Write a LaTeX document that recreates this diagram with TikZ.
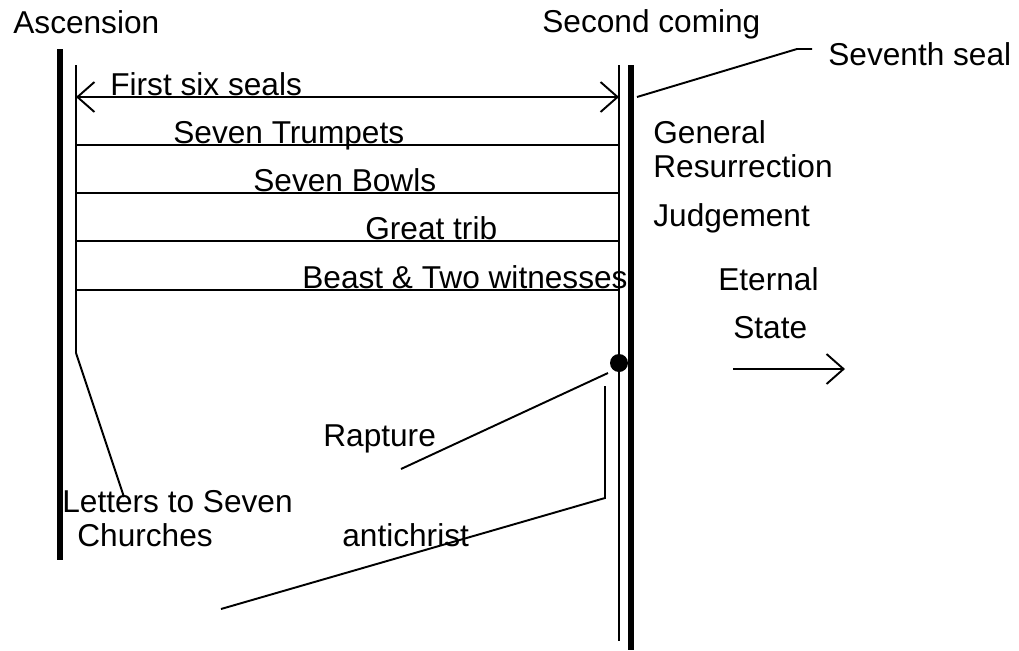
\documentclass[tikz,border=0pt]{standalone}
\usepackage{fontspec}
\setmainfont{Liberation Sans}
\usetikzlibrary{arrows.meta}

\begin{document}
\begin{tikzpicture}[x=0.02cm,y=-0.02cm,
    txt/.style={anchor=base west,inner sep=0pt,font=\fontsize{18}{22}\selectfont},
    thinline/.style={line width=1.1pt},
    thickline/.style={line width=2.9pt},
    >={Straight Barb[length=0.34cm,width=0.6cm]}]
  \useasboundingbox (0,0) rectangle (1019,650);
  % the two ends of the age
  \coordinate (ascT) at (60,49);  \coordinate (ascB) at (60,560);
  \coordinate (ageT) at (76,65);  \coordinate (ageB) at (76,353);
  \coordinate (scT) at (619,65);  \coordinate (scB) at (619,641);
  \coordinate (endT) at (631,65); \coordinate (endB) at (631,650);
  \draw[thickline] (ascT) -- (ascB);
  \draw[thinline] (ageT) -- (ageB);
  \draw[thinline] (scT) -- (scB);
  \draw[thickline] (endT) -- (endB);

  % labels
  \node[txt] (ascension) at (13,33) {Ascension};
  \node[txt] (second) at (542,32) {Second coming};
  \node[txt] (seventh) at (828,65) {Seventh seal};
  \node[txt] (six) at (110,95) {First six seals};
  \node[txt] (trumpets) at (173,143) {Seven Trumpets};
  \node[txt] (bowls) at (253,191) {Seven Bowls};
  \node[txt] (trib) at (365,239) {Great trib};
  \node[txt] (beast) at (302,288) {Beast \& Two witnesses};
  \node[txt] (general) at (653,143) {General};
  \node[txt] (resurrection) at (653,177) {Resurrection};
  \node[txt] (judgement) at (653,226) {Judgement};
  \node[txt] (eternal) at (718,290) {Eternal};
  \node[txt] (state) at (733,338) {State};
  \node[txt] (rapture) at (323,446) {Rapture};
  \node[txt] (letters) at (62,512) {Letters to Seven};
  \node[txt] (churches) at (77,546) {Churches};
  \node[txt] (antichrist) at (342,546) {antichrist};

  % periods
  \draw[thinline,<->] (ageT |- 0,97) -- (scT |- 0,97);
  \foreach \y in {145,193,241,290}
    \draw[thinline] (ageT |- 0,\y) -- (scT |- 0,\y);

  % pointers
  \coordinate (sealA) at (637,97); \coordinate (sealB) at (797,49); \coordinate (sealC) at (812,49);
  \draw[thinline] (sealA) -- (sealB) -- (sealC);
  \coordinate (rapt) at (619,363);
  \fill (rapt) circle[radius=0.18cm];
  \coordinate (raptA) at (608,373); \coordinate (raptB) at (401,469);
  \draw[thinline] (raptA) -- (raptB);
  \coordinate (antiA) at (605,386); \coordinate (antiB) at (605,498); \coordinate (antiC) at (221,609);
  \draw[thinline] (antiA) -- (antiB) -- (antiC);
  \coordinate (lettersA) at (124,497);
  \draw[thinline] (ageB) -- (lettersA);
  \coordinate (stateA) at (733,369); \coordinate (stateB) at (845,369);
  \draw[thinline,->] (stateA) -- (stateB);
\end{tikzpicture}
\end{document}
